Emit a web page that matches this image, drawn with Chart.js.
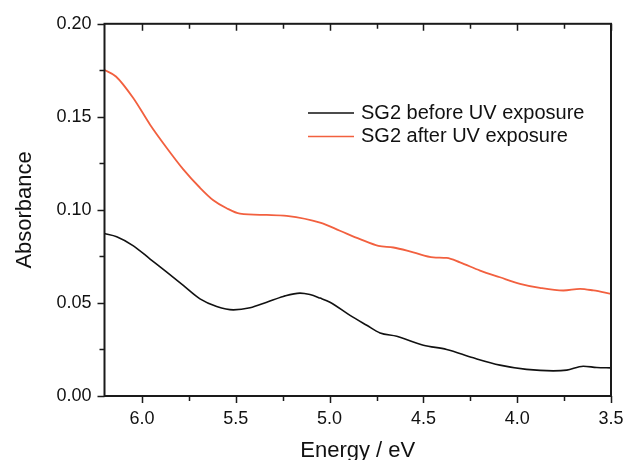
<!DOCTYPE html>
<html>
<head>
<meta charset="utf-8">
<title>Absorbance spectra</title>
<script src="https://cdn.jsdelivr.net/npm/chart.js@4/dist/chart.umd.min.js"></script>
<style>
  html, body { margin: 0; padding: 0; background: #fff; }
  #wrap { width: 626px; height: 460px; }
</style>
</head>
<body>
<div id="wrap"><canvas id="absChart" width="626" height="460"></canvas></div>
<script>
// photon energy (eV) and absorbance
var energyBefore = [6.20, 6.135, 6.046, 5.957, 5.868, 5.780, 5.691, 5.602, 5.513, 5.424, 5.335, 5.247, 5.158, 5.105, 5.051, 4.998, 4.891, 4.802, 4.731, 4.642, 4.500, 4.376, 4.234, 4.092, 3.950, 3.808, 3.736, 3.648, 3.576, 3.50];
var absBefore = [0.0873, 0.0856, 0.0807, 0.0736, 0.0665, 0.0594, 0.0522, 0.0481, 0.0463, 0.0474, 0.0504, 0.0535, 0.0553, 0.0545, 0.0526, 0.0504, 0.0433, 0.0380, 0.0339, 0.0321, 0.0273, 0.0250, 0.0205, 0.0166, 0.0143, 0.0135, 0.0139, 0.0160, 0.0153, 0.0151];

var energyAfter = [6.20, 6.139, 6.046, 5.957, 5.868, 5.780, 5.691, 5.620, 5.549, 5.478, 5.335, 5.229, 5.051, 4.945, 4.838, 4.740, 4.660, 4.554, 4.447, 4.376, 4.305, 4.198, 4.092, 3.985, 3.879, 3.754, 3.665, 3.594, 3.50];
var absAfter = [0.1752, 0.1717, 0.1600, 0.1458, 0.1333, 0.1218, 0.1119, 0.1052, 0.1009, 0.0980, 0.0973, 0.0968, 0.0932, 0.0888, 0.0843, 0.0807, 0.0798, 0.0772, 0.0745, 0.0742, 0.0718, 0.0674, 0.0638, 0.0603, 0.0581, 0.0567, 0.0576, 0.0567, 0.0549];

var seriesNames = ["SG2 before UV exposure", "SG2 after UV exposure"];
var seriesColors = ["#111111", "#f2603f"];

var xMajorTicks = [3.5, 4.0, 4.5, 5.0, 5.5, 6.0];
var xMinorTicks = [3.75, 4.25, 4.75, 5.25, 5.75];
var yMajorTicks = [0, 0.05, 0.10, 0.15, 0.20];
var yMinorTicks = [0.025, 0.075, 0.125, 0.175];

function toPoints(xs, ys) {
  return xs.map(function (x, i) { return { x: x, y: ys[i] }; });
}

// frame, tick marks and legend drawn on top of the chart area
var framePlugin = {
  id: 'frame',
  afterDraw: function (chart) {
    var ctx = chart.ctx;
    var area = chart.chartArea;
    var xs = chart.scales.x;
    var ys = chart.scales.y;
    ctx.save();
    ctx.strokeStyle = '#1a1a1a';
    ctx.lineWidth = 2;
    ctx.strokeRect(area.left, area.top, area.right - area.left, area.bottom - area.top);

    ctx.lineWidth = 1.5;
    ctx.beginPath();
    // bottom axis ticks point out, top axis ticks point in
    xMajorTicks.concat(xMinorTicks).forEach(function (v) {
      var px = Math.round(xs.getPixelForValue(v)) + 0.5;
      var len = xMajorTicks.indexOf(v) >= 0 ? 7 : 5;
      ctx.moveTo(px, area.bottom);
      ctx.lineTo(px, area.bottom + len);
      ctx.moveTo(px, area.top);
      ctx.lineTo(px, area.top + len);
    });
    yMajorTicks.concat(yMinorTicks).forEach(function (v) {
      var py = Math.round(ys.getPixelForValue(v)) + 0.5;
      var len = yMajorTicks.indexOf(v) >= 0 ? 7 : 5;
      ctx.moveTo(area.left, py);
      ctx.lineTo(area.left - len, py);
    });
    ctx.stroke();

    // legend
    ctx.font = '20px "Liberation Sans", Arial, sans-serif';
    ctx.textBaseline = 'middle';
    ctx.textAlign = 'left';
    chart.data.datasets.forEach(function (ds, i) {
      var y = 113 + i * 23.5;
      ctx.strokeStyle = ds.borderColor;
      ctx.lineWidth = 1.6;
      ctx.beginPath();
      ctx.moveTo(308, y);
      ctx.lineTo(354, y);
      ctx.stroke();
      ctx.fillStyle = '#111';
      ctx.fillText(ds.label, 361, y);
    });
    ctx.restore();
  }
};

Chart.defaults.font.family = '"Liberation Sans", Arial, sans-serif';
Chart.defaults.color = '#111';

var ctx = document.getElementById('absChart').getContext('2d');
var absChart = new Chart(ctx, {
  type: 'line',
  data: {
    datasets: [
      {
        label: seriesNames[0],
        data: toPoints(energyBefore, absBefore),
        borderColor: seriesColors[0],
        borderWidth: 1.6,
        pointRadius: 0,
        tension: 0.4,
        cubicInterpolationMode: 'monotone'
      },
      {
        label: seriesNames[1],
        data: toPoints(energyAfter, absAfter),
        borderColor: seriesColors[1],
        borderWidth: 1.8,
        pointRadius: 0,
        tension: 0.4,
        cubicInterpolationMode: 'monotone'
      }
    ]
  },
  options: {
    responsive: false,
    animation: false,
    layout: { padding: { top: 22, right: 15, left: 0, bottom: 0 } },
    plugins: {
      legend: { display: false },
      tooltip: { enabled: false }
    },
    scales: {
      x: {
        type: 'linear',
        reverse: true,
        min: 3.5,
        max: 6.2,
        grid: { display: false, drawTicks: false },
        border: { display: false },
        afterBuildTicks: function (scale) {
          scale.ticks = xMajorTicks.map(function (v) { return { value: v }; });
        },
        afterFit: function (scale) { scale.height = 64; },
        ticks: {
          padding: 12,
          font: { size: 18 },
          color: '#111',
          callback: function (v) { return v.toFixed(1); }
        },
        title: {
          display: true,
          text: 'Energy / eV',
          font: { size: 22 },
          color: '#111',
          padding: { top: 0, bottom: -4 }
        }
      },
      y: {
        min: 0,
        max: 0.2,
        grid: { display: false, drawTicks: false },
        border: { display: false },
        afterBuildTicks: function (scale) {
          scale.ticks = yMajorTicks.map(function (v) { return { value: v }; });
        },
        afterFit: function (scale) { scale.width = 104.5; },
        ticks: {
          padding: 13,
          font: { size: 18 },
          color: '#111',
          callback: function (v) { return v.toFixed(2); }
        },
        title: {
          display: true,
          text: 'Absorbance',
          font: { size: 22 },
          color: '#111',
          padding: { top: 12, bottom: 0 }
        }
      }
    }
  },
  plugins: [framePlugin]
});
</script>
</body>
</html>
